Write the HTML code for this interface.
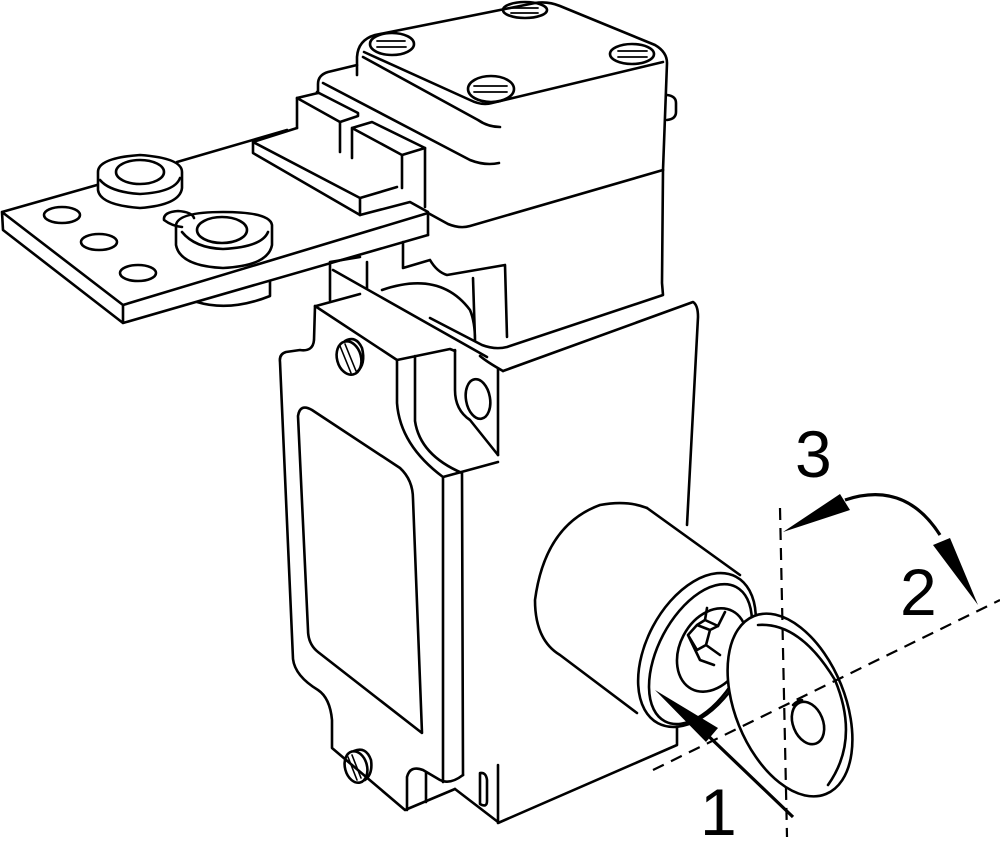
<!DOCTYPE html>
<html><head><meta charset="utf-8"><style>
html,body{margin:0;padding:0;background:#fff;}
svg{display:block;}
text{font-family:"Liberation Sans","DejaVu Sans",sans-serif;fill:#000;}
</style></head><body>
<svg width="1000" height="863" viewBox="0 0 1000 863" xmlns="http://www.w3.org/2000/svg">
<g fill="none" stroke="#000" stroke-width="2.6" stroke-linejoin="round" stroke-linecap="round">
<!-- Head cap top face -->
<path d="M357,75 L357,57 Q358,40 375,35 L535,3 Q548,1 560,6 L655,45 Q667,52 667,63 L663,170"/>
<path d="M363,57 L478,120 Q488,127 500,127"/>
<path d="M663,62 L492,103 Q482,106 470,100 L364,52"/>
<ellipse cx="392" cy="44" rx="22" ry="11"/><path d="M377,41 L405,41 M377,47 L406,47" stroke-width="1.8"/>
<ellipse cx="525" cy="10" rx="22" ry="8"/><path d="M511,8 L538,8 M511,13 L538,13" stroke-width="1.8"/>
<ellipse cx="632" cy="54" rx="22" ry="10"/><path d="M618,51 L647,51 M618,57 L647,57" stroke-width="1.8"/>
<ellipse cx="491" cy="89" rx="23" ry="13"/><path d="M474,86 L507,86 M474,92 L507,92" stroke-width="1.8"/>
<path d="M667,95 Q676,96 676,103 L676,112 Q676,119 667,120"/>
<!-- second tier -->
<path d="M357,65 L328,72 Q318,75 318,84 L318,93"/>
<path d="M323,83 L470,160 Q485,166 499,163"/>
<path d="M318,93 L297,98 L297,128"/>
<path d="M297,98 L340,122 L358,116 L358,113 L317,92"/>
<path d="M340,122 L340,152"/>
<path d="M352,128 L352,158 M352,128 L372,122 L425,148 L402,155 L352,128"/>
<path d="M402,155 L402,188 M425,148 L425,207"/>
<path d="M253,142 L297,128 M253,142 L253,153 L360,215 L360,198 L253,142"/>
<path d="M360,198 L397,187 M360,215 L410,202 L428,212 L428,235"/>
<!-- head lower block -->
<path d="M663,170 L662,283 L663,295 L507,347 Q495,350 482,345 L430,318"/>
<path d="M663,170 L470,226 Q460,229 448,224 L428,213"/>
<path d="M403,242 L403,268 L430,260 Q437,272 447,275 L505,265 L507,337"/>
<path d="M382,290 Q440,270 470,310 Q475,322 475,340 M473,278 L475,340"/>
<!-- left plate -->
<path d="M2,212 L97,185 M177,162 L287,130 M2,212 L123,305 L428,213 M2,212 L3,230 L123,323 L428,235 M123,305 L123,323"/>
<path d="M98,172 Q98,158 140,155 Q182,158 182,172 L182,188 Q180,205 140,208 Q100,205 98,190 Z"/>
<path d="M100,180 Q110,192 140,194 Q175,192 180,178"/>
<ellipse cx="140" cy="172" rx="24" ry="12"/>
<path d="M176,225 Q178,212 223,212 Q270,212 272,225 L272,245 Q268,266 223,268 Q180,266 176,245 Z"/>
<path d="M182,232 Q195,248 223,249 Q262,247 268,232"/>
<ellipse cx="222" cy="230" rx="25" ry="13"/>
<path d="M182,227 Q172,226 164,220 Q163,212 178,211 Q192,212 194,218"/>
<ellipse cx="62" cy="215" rx="18" ry="8"/>
<ellipse cx="99" cy="242" rx="18" ry="8"/>
<ellipse cx="138" cy="273" rx="18" ry="8"/>
<path d="M197,302 Q230,312 270,296 L270,281"/>
<!-- flange top behind -->
<path d="M330,262 L330,300 M367,262 L367,288 M333,270 L487,357 M330,262 L360,257"/>
<path d="M316,306 L360,294"/>
<!-- body -->
<path d="M503,371 L693,302 Q698,305 698,317 L687,525"/>
<path d="M480,356 Q487,362 503,371"/>
<path d="M498,369 L498,455 M498,765 L498,823 L677,745 L677,727"/>
<ellipse cx="478" cy="399" rx="12" ry="20" transform="rotate(-10 478 399)"/>
<path d="M455,350 L455,390 Q455,410 470,420 L498,455"/>
<!-- flange -->
<path d="M315,306 L314,340 Q313,352 300,350 L286,352 Q279,354 280,362 L293,659 Q295,676 318,690 Q330,698 332,720 L332,748 L405,810 L455,789"/>
<path d="M315,306 L397,360 L450,349 L455,351 M397,360 L397,403 Q400,445 443,477 L443,782 M415,356 L415,421 Q420,455 462,473 L463,775 M443,477 L498,462"/>
<path d="M298,416 Q300,403 312,410 L400,468 Q413,480 413,499 L422,733 L318,652 Q308,644 308,630 Z"/>
<ellipse cx="349" cy="358" rx="12" ry="17" transform="rotate(-15 349 358)"/>
<path d="M340,346 L351,373 M345,344 L356,371" stroke-width="1.6"/>
<path d="M345,341 Q356,335 362,348 Q366,364 357,372"/>
<ellipse cx="356" cy="767" rx="11" ry="16" transform="rotate(-15 356 767)"/>
<path d="M348,757 L357,780 M352,755 L361,778" stroke-width="1.6"/>
<path d="M354,751 Q366,746 371,760 Q373,774 365,780"/>
<path d="M407,810 L407,777 Q410,765 423,770 L440,780 Q450,785 463,775 M426,772 L426,802"/>
<path d="M455,789 L498,822 M480,773 Q486,772 487,780 L487,801 Q487,808 480,804 Z"/>
<!-- cylinder -->
<path d="M647,508 Q627,500 600,505 Q545,525 535,600 Q535,640 560,655 L637,713"/>
<path d="M647,508 L740,575"/>
<g transform="rotate(28 697 650)">
<ellipse cx="697" cy="650" rx="50" ry="83"/>
<ellipse cx="702" cy="652" rx="42" ry="76"/>
</g>
<g transform="rotate(28 712 650)">
<ellipse cx="712" cy="650" rx="32" ry="44"/>
</g>
<path d="M688,635 L697,625 L710,630 L706,645 L697,650 Z M697,625 L705,620 L718,626 L710,630 M706,645 L720,655 M688,635 L700,660 L714,665"/>
<path d="M707,608 L705,620 M725,612 L718,626"/>
<!-- key -->
<ellipse cx="790" cy="705" rx="55" ry="96" transform="rotate(-22 790 705)" fill="#fff"/>
<path d="M758,625 Q800,622 835,680 Q860,740 828,785"/>
<ellipse cx="808" cy="723" rx="15" ry="22" transform="rotate(-22 808 723)"/>
<path d="M793,705 Q798,700 802,700"/>
</g>
<!-- dashed lines -->
<g stroke="#000" stroke-width="2.2" stroke-dasharray="12,8" fill="none">
<path d="M780,508 L787,837"/>
<path d="M653,770 L1000,600"/>
</g>
<!-- arrow 1 -->
<path d="M793,817 L700,728" stroke="#000" stroke-width="3.2" fill="none"/>
<path d="M655,690 L718,728 L706,742 Z" fill="#000"/>
<!-- curved arrow -->
<path d="M845,500 Q905,480 940,535" stroke="#000" stroke-width="3.2" fill="none"/>
<path d="M783,532 L840,494 L850,510 Z" fill="#000"/>
<path d="M978,605 L933,545 L950,538 Z" fill="#000"/>
<text x="795" y="477" font-size="66">3</text>
<text x="900" y="615" font-size="66">2</text>
<text x="700" y="835" font-size="66">1</text>
</svg>
</body></html>
